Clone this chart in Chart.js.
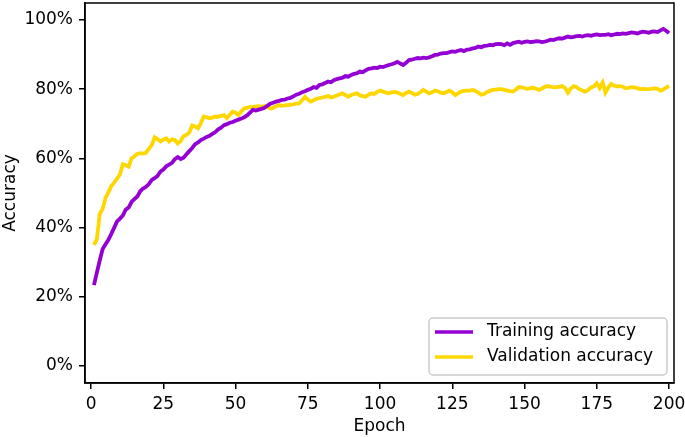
<!DOCTYPE html>
<html>
<head>
<meta charset="utf-8">
<script src="https://cdn.jsdelivr.net/npm/chart.js@4.4.0/dist/chart.umd.min.js"></script>
<style>
  html, body { margin: 0; padding: 0; background: #fff; }
  #chart { display: block; }
</style>
</head>
<body>
<canvas id="chart" width="685" height="437"></canvas>
<script>
// accuracy in %, one value per epoch (1..200)
const trainAcc = [
  23.4, 27.0, 30.5, 33.8, 35.2, 36.5, 38.2, 40.0, 41.8, 42.6,
  43.5, 45.2, 45.8, 47.4, 48.2, 49.0, 50.5, 51.3, 51.8, 52.6,
  53.8, 54.3, 54.9, 56.2, 56.8, 57.7, 58.2, 58.7, 59.8, 60.4,
  59.8, 60.2, 61.2, 62.1, 63.0, 64.1, 64.6, 65.3, 65.7, 66.2,
  66.5, 67.1, 67.6, 68.4, 68.9, 69.6, 69.9, 70.3, 70.5, 70.9,
  71.2, 71.5, 71.9, 72.4, 73.2, 74.0, 73.8, 74.1, 74.3, 74.6,
  75.2, 75.8, 76.1, 76.4, 76.6, 76.9, 77.0, 77.3, 77.5, 77.9,
  78.4, 78.7, 79.1, 79.4, 79.8, 80.1, 80.6, 80.4, 81.2, 81.4,
  81.8, 82.2, 82.0, 82.6, 82.9, 83.1, 83.3, 83.8, 83.6, 84.1,
  84.4, 84.6, 85.1, 84.9, 85.4, 85.9, 86.0, 86.2, 86.1, 86.5,
  86.4, 86.7, 87.0, 87.2, 87.5, 87.9, 87.4, 87.0, 87.6, 88.4,
  88.5, 88.8, 89.0, 88.9, 89.1, 89.0, 89.2, 89.5, 89.9, 90.0,
  90.3, 90.4, 90.4, 90.7, 90.9, 90.8, 91.1, 91.3, 91.0, 91.4,
  91.5, 91.8, 91.9, 92.3, 92.1, 92.5, 92.6, 92.8, 92.7, 93.0,
  93.1, 93.0, 92.7, 93.2, 92.8, 93.3, 93.5, 93.7, 93.4, 93.7,
  93.8, 93.6, 93.7, 93.9, 93.8, 93.6, 93.7, 94.0, 94.3, 94.2,
  94.5, 94.7, 94.6, 94.9, 95.2, 95.0, 95.1, 95.3, 95.4, 95.2,
  95.5, 95.6, 95.4, 95.7, 95.8, 95.6, 95.7, 95.7, 95.9, 95.6,
  95.8, 96.0, 95.9, 96.1, 96.0, 96.2, 96.4, 96.3, 96.1, 96.4,
  96.6, 96.5, 96.3, 96.6, 96.7, 96.5, 97.0, 97.4, 96.9, 96.2
];
const valAcc = [
  35.0, 36.6, 44.0, 45.4, 48.6, 50.2, 52.0, 53.0, 54.2, 55.4,
  58.3, 58.0, 57.6, 60.0, 60.6, 61.3, 61.5, 61.4, 61.6, 62.8,
  63.8, 66.1, 65.6, 64.9, 65.4, 65.8, 64.9, 65.5, 65.3, 64.3,
  65.0, 66.4, 66.8, 67.5, 69.5, 69.2, 68.7, 70.2, 72.1, 71.9,
  71.6, 71.8, 72.1, 72.0, 72.3, 72.5, 71.6, 72.6, 73.5, 73.2,
  72.5, 73.6, 74.4, 74.6, 74.9, 74.8, 75.0, 75.1, 74.9, 75.1,
  75.0, 74.4, 74.6, 75.1, 75.4, 75.2, 75.3, 75.4, 75.5, 75.6,
  75.8, 75.9, 76.8, 77.8, 77.0, 76.4, 76.8, 77.2, 77.4, 77.6,
  77.8, 78.0, 77.6, 77.8, 78.2, 78.5, 78.8, 78.3, 77.8, 78.3,
  78.6, 78.8, 78.2, 78.0, 77.8, 78.4, 78.8, 78.6, 79.2, 79.6,
  79.3, 79.0, 78.8, 79.1, 79.2, 79.0, 78.6, 78.3, 78.9, 79.3,
  78.9, 78.4, 78.6, 79.2, 79.8, 79.3, 78.8, 79.1, 79.6, 79.4,
  79.0, 78.8, 79.2, 79.6, 79.1, 78.3, 78.8, 79.3, 79.5, 79.6,
  79.6, 79.8, 79.5, 79.0, 78.4, 78.6, 79.2, 79.5, 79.8, 79.9,
  80.0, 80.0, 79.8, 79.6, 79.4, 79.3, 79.9, 80.6, 80.5, 80.3,
  80.1, 80.3, 80.4, 80.1, 79.8, 80.2, 80.7, 80.9, 80.7, 80.5,
  80.6, 80.7, 80.9, 80.4, 79.0, 80.2, 80.9, 80.6, 80.0, 79.6,
  79.3, 79.8, 80.5, 80.8, 81.7, 80.3, 81.9, 79.0, 80.6, 81.5,
  81.0, 80.8, 80.9, 80.7, 80.3, 80.4, 80.6, 80.5, 80.3, 80.0,
  80.1, 80.0, 80.0, 80.1, 80.3, 80.1, 79.6, 79.9, 80.5, 80.9
];
const seriesLabels = ["Training accuracy", "Validation accuracy"];
const xTicks = [0, 25, 50, 75, 100, 125, 150, 175, 200];
const yTicks = [0, 20, 40, 60, 80, 100];

const colors = ["#9400d3", "#ffd700"];
const font = "DejaVu Sans";

const toPoints = (arr) => arr.map((v, i) => ({ x: i + 1, y: v }));

// top/right spines
const frame = {
  id: "frame",
  afterDatasetsDraw(chart) {
    const { ctx, chartArea: a } = chart;
    ctx.save();
    ctx.strokeStyle = "#000";
    ctx.lineWidth = 1.5;
    ctx.strokeRect(a.left, a.top, a.right - a.left, a.bottom - a.top);
    ctx.restore();
  },
};

// matplotlib-like legend in lower right
const boxLegend = {
  id: "boxLegend",
  afterDraw(chart) {
    const { ctx, chartArea: a } = chart;
    const x = a.right - 245, y = a.bottom - 65, w = 238, h = 57;
    ctx.save();
    ctx.beginPath();
    ctx.roundRect(x, y, w, h, 4);
    ctx.fillStyle = "rgba(255,255,255,0.8)";
    ctx.fill();
    ctx.strokeStyle = "#cccccc";
    ctx.lineWidth = 1.5;
    ctx.stroke();
    ctx.font = "17px '" + font + "'";
    ctx.textBaseline = "middle";
    chart.data.datasets.forEach((ds, i) => {
      const ly = y + 14 + i * 25;
      ctx.beginPath();
      ctx.moveTo(x + 6, ly);
      ctx.lineTo(x + 44, ly);
      ctx.strokeStyle = ds.borderColor;
      ctx.lineWidth = 3.5;
      ctx.stroke();
      ctx.fillStyle = "#000";
      ctx.fillText(ds.label, x + 58, ly);
    });
    ctx.restore();
  },
};

new Chart(document.getElementById("chart"), {
  type: "line",
  data: {
    datasets: [
      { label: seriesLabels[0], data: toPoints(trainAcc), borderColor: colors[0] },
      { label: seriesLabels[1], data: toPoints(valAcc), borderColor: colors[1] },
    ],
  },
  options: {
    responsive: false,
    animation: false,
    elements: {
      point: { radius: 0 },
      line: { borderWidth: 3.8, tension: 0 },
    },
    layout: { padding: { top: 3, right: 11, left: 0, bottom: 0 } },
    plugins: { legend: { display: false }, tooltip: { enabled: false } },
    scales: {
      x: {
        type: "linear",
        min: -2.1,
        max: 201.7,
        afterBuildTicks: (s) => { s.ticks = xTicks.map((v) => ({ value: v })); },
        afterFit: (s) => { s.height = 54; s.paddingLeft = 0; s.paddingRight = 0; },
        grid: { drawOnChartArea: false, tickLength: 6, color: "#000", lineWidth: 1.5 },
        border: { color: "#000", width: 1.5 },
        ticks: { color: "#000", font: { family: font, size: 17 }, padding: 5, maxRotation: 0 },
        title: { display: true, text: "Epoch", color: "#000", font: { family: font, size: 17 }, padding: 0 },
      },
      y: {
        min: -4.9,
        max: 104.9,
        afterBuildTicks: (s) => { s.ticks = yTicks.map((v) => ({ value: v })); },
        afterFit: (s) => { s.width = 85; s.paddingTop = 0; s.paddingBottom = 0; },
        grid: { drawOnChartArea: false, tickLength: 6, color: "#000", lineWidth: 1.5 },
        border: { color: "#000", width: 1.5 },
        ticks: { color: "#000", font: { family: font, size: 17 }, padding: 6, callback: (v) => v + "%" },
        title: { display: true, text: "Accuracy", color: "#000", font: { family: font, size: 17 }, padding: 0 },
      },
    },
  },
  plugins: [frame, boxLegend],
});
</script>
</body>
</html>
